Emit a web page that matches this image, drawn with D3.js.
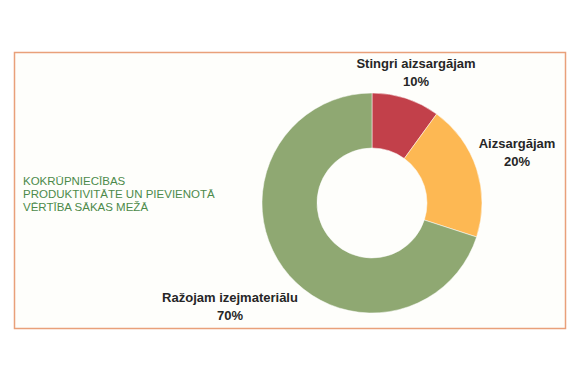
<!DOCTYPE html>
<html>
<head>
<meta charset="utf-8">
<script src="https://d3js.org/d3.v7.min.js"></script>
<style>
  body { margin: 0; background: #fff; }
</style>
</head>
<body>
<div id="chart"></div>
<script>
// slices, clockwise from 12 o'clock
var categories = ['Stingri aizsargājam', 'Aizsargājam', 'Ražojam izejmateriālu'];
var values = [10, 20, 70];
var colors = ['#c2404a', '#fdb853', '#8fa872'];
var titleLines = ['KOKRŪPNIECĪBAS', 'PRODUKTIVITĀTE UN PIEVIENOTĀ', 'VĒRTĪBA SĀKAS MEŽĀ'];

var width = 580, height = 387;
var cx = 372, cy = 203, outerR = 110, innerR = 55;

var svg = d3.select('#chart')
	.append('svg')
		.attr('width', width)
		.attr('height', height)
		.style('font-family', 'Liberation Sans, Arial, sans-serif');

// frame
svg.append('rect')
	.attr('x', 14.5)
	.attr('y', 52.5)
	.attr('width', 551)
	.attr('height', 276)
	.attr('fill', '#fefefb')
	.attr('stroke', '#e9a07a')
	.attr('stroke-width', 1.5);

// title on the left
svg.append('text')
	.attr('x', 23)
	.attr('y', 184.5)
	.attr('fill', '#4c8a4a')
	.style('font-size', '11.5px')
	.selectAll('tspan')
	.data(titleLines)
	.enter()
	.append('tspan')
		.attr('x', 23)
		.attr('dy', function(d, i){ return i ? 13.4 : 0; })
		.text(function(d){ return d; });

var data = categories.map(function(c, i){ return { name: c, value: values[i], color: colors[i] }; });

var pie = d3.pie()
	.sort(null)
	.value(function(d){ return d.value; });

var arc = d3.arc()
	.innerRadius(innerR)
	.outerRadius(outerR);

var g = svg.append('g')
	.attr('transform', 'translate(' + cx + ',' + cy + ')');

var arcs = pie(data);

g.selectAll('path')
	.data(arcs)
	.enter()
	.append('path')
		.attr('d', arc)
		.attr('fill', function(d){ return d.data.color; })
		.attr('stroke', '#fff')
		.attr('stroke-width', 0.5);

// label positions (offset from centre), one per slice
var labelPos = [[44, -135], [145, -55], [-142, 99]];

var labels = g.selectAll('text.lbl')
	.data(arcs)
	.enter()
	.append('text')
		.attr('class', 'lbl')
		.attr('text-anchor', 'middle')
		.attr('fill', '#262626')
		.style('font-size', '13px')
		.style('font-weight', 'bold')
		.attr('transform', function(d, i){ return 'translate(' + labelPos[i][0] + ',' + labelPos[i][1] + ')'; });

labels.append('tspan')
	.attr('x', 0)
	.text(function(d){ return d.data.name; });
labels.append('tspan')
	.attr('x', 0)
	.attr('dy', 18)
	.text(function(d){ return d.data.value + '%'; });
</script>
</body>
</html>
